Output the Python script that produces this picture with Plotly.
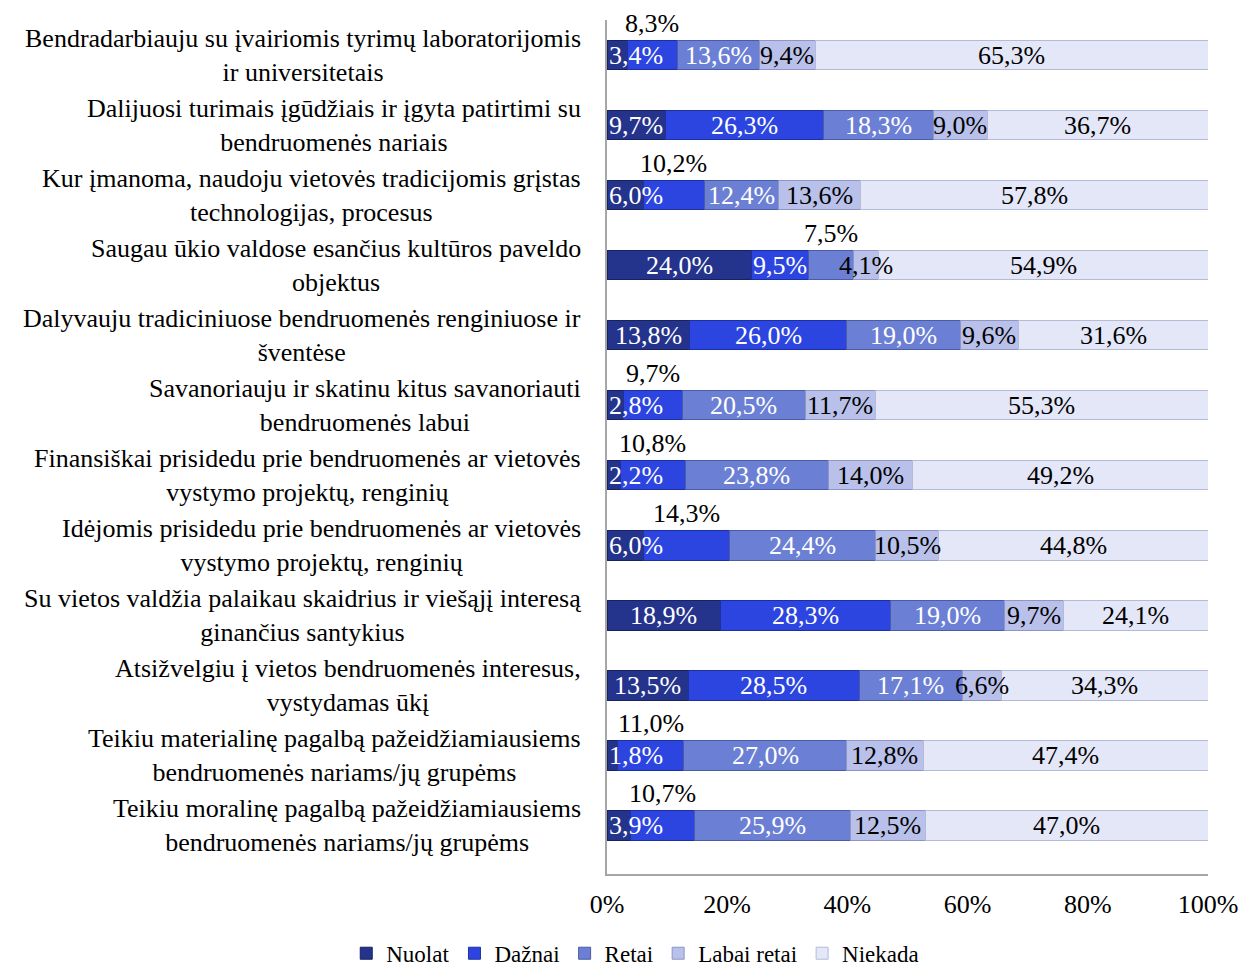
import plotly.graph_objects as go

statements = [
    "Bendradarbiauju su įvairiomis tyrimų laboratorijomis<br>ir universitetais",
    "Dalijuosi turimais įgūdžiais ir įgyta patirtimi su<br>bendruomenės nariais",
    "Kur įmanoma, naudoju vietovės tradicijomis grįstas<br>technologijas, procesus",
    "Saugau ūkio valdose esančius kultūros paveldo<br>objektus",
    "Dalyvauju tradiciniuose bendruomenės renginiuose ir<br>šventėse",
    "Savanoriauju ir skatinu kitus savanoriauti<br>bendruomenės labui",
    "Finansiškai prisidedu prie bendruomenės ar vietovės<br>vystymo projektų, renginių",
    "Idėjomis prisidedu prie bendruomenės ar vietovės<br>vystymo projektų, renginių",
    "Su vietos valdžia palaikau skaidrius ir viešąjį interesą<br>ginančius santykius",
    "Atsižvelgiu į vietos bendruomenės interesus,<br>vystydamas ūkį",
    "Teikiu materialinę pagalbą pažeidžiamiausiems<br>bendruomenės nariams/jų grupėms",
    "Teikiu moralinę pagalbą pažeidžiamiausiems<br>bendruomenės nariams/jų grupėms",
]

nuolat = [3.4, 9.7, 6.0, 24.0, 13.8, 2.8, 2.2, 6.0, 18.9, 13.5, 1.8, 3.9]
daznai = [8.3, 26.3, 10.2, 9.5, 26.0, 9.7, 10.8, 14.3, 28.3, 28.5, 11.0, 10.7]
retai = [13.6, 18.3, 12.4, 7.5, 19.0, 20.5, 23.8, 24.4, 19.0, 17.1, 27.0, 25.9]
labai_retai = [9.4, 9.0, 13.6, 4.1, 9.6, 11.7, 14.0, 10.5, 9.7, 6.6, 12.8, 12.5]
niekada = [65.3, 36.7, 57.8, 54.9, 31.6, 55.3, 49.2, 44.8, 24.1, 34.3, 47.4, 47.0]

series_names = ["Nuolat", "Dažnai", "Retai", "Labai retai", "Niekada"]
series_values = [nuolat, daznai, retai, labai_retai, niekada]
colors = ["#24338c", "#2c45e0", "#6b80d4", "#b9c1ea", "#e4e7f8"]
edge_colors = ["#18225f", "#1d30a3", "#4a5ca3", "#8c96c6", "#b5bad6"]
text_colors = ["white", "white", "white", "black", "black"]

# which segment label sits above the bar (row index -> series index)
label_above = {0: 1, 2: 1, 3: 2, 5: 1, 6: 1, 7: 1, 10: 1, 11: 1}

FONT = "Liberation Serif, Times New Roman, serif"
FS = 26

fig = go.Figure()
for name, vals, col, edge in zip(series_names, series_values, colors, edge_colors):
    fig.add_trace(go.Bar(
        y=statements, x=vals, name=name, orientation="h",
        marker=dict(color=col, line=dict(color=edge, width=1)),
    ))

annotations = []
for i, cat in enumerate(statements):
    cum = 0
    for s, vals in enumerate(series_values):
        v = vals[i]
        centre = cum + v / 2
        cum += v
        txt = f"{v:.1f}%".replace(".", ",")
        if label_above.get(i) == s:
            annotations.append(dict(x=centre, y=cat, xref="x", yref="y", text=txt,
                                    showarrow=False, yshift=32,
                                    font=dict(family=FONT, size=FS, color="black")))
            continue
        if s == 0 and v < 8:
            annotations.append(dict(x=0, y=cat, xref="x", yref="y", text=txt,
                                    showarrow=False, xanchor="left", xshift=0,
                                    font=dict(family=FONT, size=FS, color=text_colors[s])))
        else:
            annotations.append(dict(x=centre, y=cat, xref="x", yref="y", text=txt,
                                    showarrow=False,
                                    font=dict(family=FONT, size=FS, color=text_colors[s])))
    # category label, lines centred on each other, block right aligned
    annotations.append(dict(x=0, y=cat, xref="paper", yref="y", text=cat,
                            showarrow=False, xanchor="right", xshift=-24,
                            align="center",
                            font=dict(family=FONT, size=FS, color="black")))

fig.update_layout(
    barmode="stack",
    bargap=0.58,
    width=1246, height=959,
    margin=dict(l=599, r=46, t=12, b=93, autoexpand=False),
    paper_bgcolor="white", plot_bgcolor="white",
    font=dict(family=FONT, size=FS, color="black"),
    annotations=annotations,
    legend=dict(orientation="h", x=0.047, xanchor="center",
                y=-0.118, yanchor="bottom", bgcolor="rgba(0,0,0,0)",
                font=dict(family=FONT, size=23), itemwidth=30,
                traceorder="normal"),
    xaxis=dict(range=[0, 100], tickvals=[0, 20, 40, 60, 80, 100],
               ticktext=["0%", "20%", "40%", "60%", "80%", "100%"],
               showgrid=False, zeroline=False, showline=True, linecolor="#a6a6a6",
               linewidth=1.5, ticks="", ticklabelstandoff=6, automargin=False),
    yaxis=dict(autorange="reversed", showticklabels=False, showgrid=False,
               zeroline=False, showline=True, linecolor="#a6a6a6", linewidth=1.5,
               automargin=False),
)

fig.write_html("out.html")
